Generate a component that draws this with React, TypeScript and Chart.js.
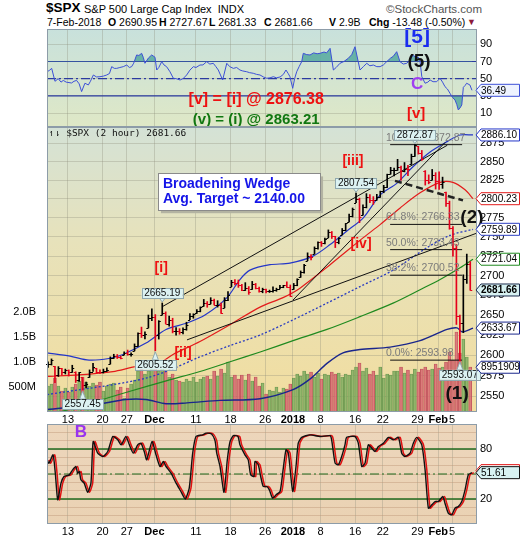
import React, { useEffect, useRef } from "react";
import { Chart, registerables } from "chart.js";

Chart.register(...registerables);

const FONT = "'Liberation Sans', Arial, Helvetica, sans-serif";
const MONO = "'DejaVu Sans Mono', 'Liberation Mono', monospace";

/* ---------------- x axis: index of 2-hour bar (4 per session) ---------------- */
const X_MIN = -0.1;
const X_MAX = 248.4;
const TICK_IDX = [12, 32, 46, 62, 86, 106, 126, 142, 158, 178, 194, 214, 226, 234];
const TICK_LABELS = ["13", "20", "27", "Dec", "11", "18", "26", "2018", "8", "16", "22", "29", "Feb", "5"];
const BOLD_TICKS = ["Dec", "2018", "Feb"];

/* ---------------- price: half-session bars (pair k sits at bar 2k+0.5) ---------------- */
const FIRST_OPEN = 2588.7;
const HIGH = [
  2592, 2595.5, 2586.5, 2586, 2583.8, 2583, 2582, 2587.7, 2579.7, 2579,
  2572.8, 2567, 2582, 2590.1, 2584, 2582, 2583, 2584.6, 2598, 2601.2,
  2600.9, 2599, 2604.2, 2606.4, 2603, 2614, 2627.7, 2634.9, 2629, 2650,
  2657.7, 2650.6, 2643, 2665.19, 2654, 2648.7, 2646, 2634.4, 2633, 2634,
  2641, 2651.7, 2651.6, 2657, 2660.3, 2669.7, 2667, 2671.9, 2670, 2668.1,
  2665, 2672, 2679.6, 2694, 2694.97, 2694.4, 2689, 2691, 2686, 2692.6,
  2690, 2685.4, 2684, 2682.7, 2681.5, 2685.6, 2684, 2687.7, 2687.6, 2692.1,
  2688, 2690, 2695.9, 2706, 2714.4, 2729.3, 2727, 2737, 2743.5, 2744,
  2748.5, 2759.1, 2757, 2750.8, 2749, 2761, 2767.6, 2780, 2787.9, 2807.54,
  2801, 2792, 2807, 2805.8, 2803, 2806, 2810.3, 2818, 2833, 2842.2,
  2841, 2852.97, 2844, 2848.6, 2845, 2860, 2872.87, 2870.6, 2865, 2837.8,
  2832, 2839.3, 2835, 2835.96, 2829, 2808.9, 2797, 2763.4, 2740, 2650,
  2701, 2727.67, 2718,
];
const LOW = [
  2585, 2588, 2566.3, 2574, 2575.6, 2577, 2574.5, 2579, 2566.6, 2568,
  2557.45, 2560, 2572.9, 2580, 2578, 2577.6, 2578.2, 2580, 2589.2, 2596,
  2596, 2595.5, 2600.4, 2600, 2598.9, 2605.4, 2611, 2622, 2620.3, 2633.9,
  2643, 2605.52, 2620, 2650, 2639, 2636, 2627.7, 2624.8, 2626, 2626.5,
  2631, 2644.1, 2646, 2652, 2654, 2661, 2659.8, 2664, 2662.9, 2660,
  2652, 2659.1, 2668, 2685.9, 2688, 2685, 2680.7, 2681, 2676.1, 2682.4,
  2683, 2679, 2678.1, 2678, 2678.5, 2679, 2680, 2683, 2684.5, 2685,
  2673.6, 2682.4, 2687, 2697.8, 2703, 2719.1, 2720, 2727.9, 2734, 2737.6,
  2741, 2749, 2747.9, 2736.1, 2741, 2752.8, 2758, 2769.6, 2776, 2795,
  2768.6, 2778.4, 2788, 2795, 2792.6, 2798.1, 2802, 2808.1, 2815, 2833,
  2830.6, 2838, 2824.8, 2836, 2830.9, 2846.2, 2857, 2860, 2851.5, 2818.3,
  2820, 2825, 2813, 2812.7, 2814, 2790, 2759.97, 2725, 2638.2, 2593.07,
  2628, 2690, 2681.33,
];
const CLOSE = [
  2589, 2594.4, 2576, 2584.6, 2579, 2582.3, 2580, 2584.8, 2570, 2578.9,
  2563, 2564.6, 2580, 2585.6, 2580, 2578.9, 2581, 2582.1, 2597, 2599,
  2598, 2597.1, 2602.4, 2601, 2601.4, 2612, 2627, 2625, 2626.1, 2646,
  2647.6, 2625, 2642.2, 2652, 2639.4, 2644, 2629.6, 2630, 2629.3, 2632,
  2637, 2649, 2651.5, 2655, 2660, 2665, 2664.1, 2669, 2662.9, 2663,
  2652, 2669, 2675.8, 2692, 2690.2, 2688, 2681.5, 2684, 2679.3, 2689,
  2684.6, 2681, 2683.3, 2680, 2680.5, 2682, 2682.6, 2686, 2687.5, 2686,
  2673.6, 2688, 2695.8, 2704, 2713.1, 2725, 2724, 2735, 2743.2, 2742,
  2747.7, 2756, 2751.3, 2743, 2748.2, 2759, 2767.6, 2778, 2786.2, 2800,
  2776.4, 2789, 2802.6, 2799, 2798, 2803, 2810.3, 2816, 2833, 2838,
  2839.1, 2842, 2837.5, 2840, 2839.3, 2858, 2872.87, 2862, 2853.5, 2825,
  2822.4, 2832, 2823.8, 2820, 2822, 2795, 2762.1, 2735, 2648.9, 2640,
  2695.1, 2715, 2681.66,
];
const VOLUME_M = [
  520, 560, 680, 520, 420, 480, 400, 500, 560, 620,
  700, 600, 520, 580, 540, 600, 420, 520, 560, 580,
  440, 500, 280, 480, 560, 640, 820, 880, 760, 820,
  900, 960, 820, 880, 820, 700, 760, 640, 620, 600,
  660, 620, 700, 600, 660, 700, 720, 660, 820, 720,
  860, 780, 1000, 700, 740, 660, 740, 640, 760, 620,
  700, 520, 580, 360, 440, 420, 500, 400, 480, 460,
  560, 680, 760, 720, 820, 760, 800, 700, 780, 660,
  760, 740, 800, 760, 780, 700, 760, 740, 840, 900,
  980, 820, 880, 760, 820, 740, 900, 680, 760, 740,
  820, 820, 900, 780, 840, 760, 860, 800, 860, 900,
  840, 860, 960, 880, 900, 1000, 1200, 1040, 1600, 1180,
  1460, 1100, 900,
];
const VOL_MA_LAST = 895190976;

const PRICE_MIN = 2531;
const PRICE_MAX = 2897;
const PRICE_TICKS = [2550, 2575, 2600, 2625, 2650, 2675, 2700, 2725, 2750, 2775, 2800, 2825, 2850, 2875];
const VOL_MAX = 5.7e9;
const VOL_TICKS = [5e8, 1e9, 1.5e9, 2e9];
const VOL_TICK_LABELS = ["500M", "1.0B", "1.5B", "2.0B"];

/* ---------------- overlays on price panel: [bar index, price] ---------------- */
const UPPER_BAND = [
  [0, 2603], [13.2, 2599], [24.2, 2594], [35.7, 2596], [43.8, 2601], [57.1, 2615], [68.7, 2632],
  [80.8, 2640], [91.2, 2650], [103.9, 2672], [111.4, 2695], [117.2, 2707], [128.8, 2714],
  [140.3, 2716], [153.6, 2725], [163.5, 2740], [173.4, 2758], [182.7, 2775], [192.4, 2805],
  [202.2, 2821], [211.4, 2843], [221.3, 2863], [231.1, 2877], [238.6, 2886], [246.1, 2886.1],
];
const MA_RED = [
  [0, 2574], [18.4, 2576], [38, 2580], [51.3, 2586], [62.9, 2588], [72.7, 2601], [88.3, 2617],
  [105.7, 2638], [123, 2660], [136.3, 2672], [146.1, 2684], [163.5, 2714], [182.7, 2749],
  [192.4, 2766], [204, 2788], [215.5, 2808], [227.1, 2822], [234.5, 2822], [241.5, 2812], [246.1, 2800.23],
];
const MA_DOTTED = [
  [0, 2552], [19, 2558], [38, 2564], [57.2, 2572], [71, 2582], [88.3, 2598], [105.7, 2612],
  [123, 2625], [142.1, 2644], [161.7, 2665], [180.8, 2686], [199.9, 2707], [219.5, 2736],
  [232.8, 2752], [246.1, 2759.89],
];
const MA_GREEN = [
  [0, 2528], [19, 2537], [30.5, 2545], [47.9, 2556], [69.3, 2569], [88.3, 2580], [105.7, 2592],
  [123.1, 2604], [142.1, 2618], [161.7, 2632], [180.8, 2648], [199.9, 2665], [215.5, 2682],
  [227.1, 2695], [238.6, 2710], [246.1, 2721.04],
];
const MA_NAVY = [
  [0, 2534], [28.2, 2540], [45.5, 2546], [57.1, 2546], [68.7, 2541], [80.8, 2542], [99.9, 2545],
  [123, 2547], [142.1, 2558], [152, 2571], [161.7, 2590], [171, 2603], [180.8, 2607], [198.2, 2610],
  [215.5, 2618], [231.1, 2632], [236.9, 2634], [239.8, 2629], [246.1, 2633.67],
];
const WEDGE_UPPER = [[66.9, 2661], [231.2, 2872]];
const WEDGE_LOWER = [[80.8, 2619], [248.4, 2755]];
const STEEP_LINE = [[142.1, 2669], [230, 2876]];
const DASHED_LINE = [[201, 2824], [240.3, 2798]];

const FIB_LEVELS = [2872.87, 2766.33, 2733.43, 2700.52, 2593.98];
const FIB_PCT = ["100.0%", "61.8%", "50.0%", "38.2%", "0.0%"];
const FIB_FROM = 198.2;
const FIB_TO = 239.8;
const FIB_TEXT_X = 195.8;

const CALLOUTS = [
  { x: 212.5, v: 2872.87, above: true },
  { x: 178.5, v: 2807.54, above: true },
  { x: 66.5, v: 2665.19, above: true },
  { x: 62.5, v: 2605.52, above: false },
  { x: 20.5, v: 2557.45, above: false },
  { x: 238.5, v: 2593.07, above: false },
];
const MAIN_NOTES = [
  { t: "[i]", x: 65.9, v: 2710, c: "#ee1111", s: 14 },
  { t: "[ii]", x: 78.5, v: 2602, c: "#ee1111", s: 14 },
  { t: "[iii]", x: 176.7, v: 2851, c: "#ee1111", s: 14 },
  { t: "[iv]", x: 181.4, v: 2740, c: "#ee1111", s: 14 },
  { t: "(2)", x: 245.5, v: 2775, c: "#111111", s: 19 },
  { t: "(1)", x: 236.9, v: 2553, c: "#111111", s: 19 },
];
const WEDGE_NOTE = { x0: 64.0, x1: 157.7, v0: 2834, v1: 2785 };
const WEDGE_TEXT = ["Broadening Wedge", "Avg. Target ~ 2140.00"];

/* ---------------- top panel: RSI-style oscillator [bar index, value] ---------------- */
const RSI_MIN = -6.2;
const RSI_MAX = 107.8;
const RSI_TICKS = [10, 30, 50, 70, 90];
const RSI_LEVELS = [70, 50, 30];
const RSI_PTS = [
  [0, 58], [1.5, 60], [2.6, 62], [4.5, 47], [6.4, 50], [8, 46], [9.3, 48], [11, 46], [14.1, 45],
  [15.5, 47], [17, 48], [18.5, 44], [19.9, 35], [21.8, 44.7], [23.8, 42.7], [25, 47], [26.7, 54.3],
  [28.5, 52], [30.5, 52.3], [32.5, 53], [34.4, 54.3], [36, 56], [37.3, 64], [38.8, 62], [40.2, 62],
  [42, 63], [44, 64], [46, 65.9], [47.5, 63], [48.8, 64], [50, 68], [51.7, 77.6], [53, 77],
  [54.6, 79.5], [55.5, 75], [56.5, 67.9], [58.5, 74], [60.4, 77.6], [62.3, 75], [63.3, 60.1],
  [64.5, 63], [66.2, 69.8], [67.5, 66], [69, 64], [71, 58], [72.9, 50.5], [74.5, 50], [76.8, 48.5],
  [78.5, 50], [80.6, 54.3], [82.5, 60], [84.5, 64], [86, 63], [88.3, 65.9], [90, 66], [92.2, 69.8],
  [94, 67], [96, 67.9], [97.5, 64], [98.9, 60.1], [101.4, 48.5], [103.8, 67.9], [105.5, 64],
  [107.6, 62], [109.5, 63], [111.4, 60.1], [113, 59], [115.3, 58.1], [117, 57], [119.1, 56.3],
  [121, 55], [123, 54.3], [125, 52], [126.9, 50.5], [128.8, 51], [130.7, 52.3], [132.5, 51],
  [134.6, 52], [136.5, 55], [138, 60.1], [139.3, 56], [140.3, 52.3], [141.9, 38.8], [143, 50],
  [144.2, 58.1], [145.6, 64], [147.1, 69.8], [148, 79.5], [150, 78], [151.9, 77.6], [154, 80],
  [156, 79], [157.7, 79.5], [160, 81], [161.5, 80], [163.5, 85.3], [165.4, 60.1], [167, 63],
  [169.2, 67.9], [171.5, 70], [174, 73.7], [176, 78], [177.9, 87.2], [180.8, 60.1], [182.7, 64],
  [184.7, 67.9], [186.5, 65], [188.5, 65.9], [190.5, 64], [192.4, 64], [194.3, 66], [196.2, 69.8],
  [198.5, 74], [200, 76], [202, 81.4], [203.9, 69.8], [205.8, 67], [207.8, 67.9], [209.7, 72],
  [211.6, 77.6], [213, 74], [214.5, 75], [215.5, 70], [216.5, 52.3], [218.4, 44.7], [220, 46],
  [221.3, 48.5], [223, 46.5], [225.1, 46.5], [227, 50.5], [228.5, 46], [229.9, 40.7], [231.3, 38],
  [232.8, 33], [234.3, 28], [235.7, 25.2], [236.7, 20], [237.6, 13.6], [238.6, 16], [239.6, 19.4],
  [240.5, 40], [241.5, 42], [242.4, 44.7], [244.3, 42.7], [245.5, 36.49],
];
const TOP_NOTES = [
  { t: "[5]", x: 213.8, v: 98.5, c: "#1a2cf0", s: 21 },
  { t: "(5)", x: 214.9, v: 69.4, c: "#111111", s: 19 },
  { t: "C", x: 213.8, v: 43.8, c: "#a040f0", s: 17 },
  { t: "[v] = [i] @ 2876.38", x: 120.8, v: 25.2, c: "#ee1111", s: 16 },
  { t: "(v) = (i) @ 2863.21", x: 120.8, v: 2, c: "#117711", s: 15 },
  { t: "[v]", x: 213.2, v: 8.8, c: "#ee1111", s: 15 },
];

/* ---------------- bottom panel: stochastic-style oscillator ---------------- */
const OSC_MIN = -10;
const OSC_MAX = 110;
const OSC_GRID = [0, 10, 20, 30, 40, 50, 60, 70, 80, 90, 100];
const OSC_LABELED = [80, 20];
const OSC_LEVELS = [80, 50, 20];
const SIGNAL_LAG = 1;
const OSC_PTS = [
  [0, 67], [1, 63], [3.4, 73], [4.7, 51], [6.1, 19], [8, 39], [9.7, 47], [12.8, 49], [14.7, 55],
  [16.6, 59], [17.6, 51], [18.6, 53], [19.5, 43], [21.4, 39], [23.4, 28], [25.3, 39], [26.6, 89],
  [29.2, 75], [32.1, 71], [35, 77], [37.9, 95], [40.8, 91], [42.7, 85], [45.5, 95], [47.5, 85],
  [49.8, 75], [52.3, 85], [54.2, 87], [56.1, 77], [57.5, 67], [60.6, 89], [62.9, 73], [65.2, 59],
  [67.1, 65], [68.7, 59], [71.6, 51], [74.5, 39], [77.3, 29], [79.8, 20], [82.1, 33], [84.1, 75],
  [86, 95], [89.9, 97], [91.8, 99], [95, 98], [97, 90], [98, 75], [99.9, 59], [102.2, 28],
  [104.1, 67], [105.7, 89], [107.6, 96], [110.3, 95], [111.4, 85], [114.3, 73], [116.2, 67],
  [117.6, 49], [119.5, 47], [120.1, 65], [122, 61], [123.4, 47], [124.9, 35], [126.9, 35],
  [128.4, 31], [130.3, 21], [132.3, 25], [134.6, 29], [136.1, 51], [138, 79], [139.4, 75],
  [141.9, 29], [143.8, 59], [145.1, 87], [147.1, 94], [151.9, 97], [157.7, 95], [163.5, 96],
  [164.4, 91], [166.4, 63], [168.3, 61], [170.2, 71], [172.1, 85], [173.1, 94], [177.9, 95],
  [179.8, 87], [181.8, 59], [183.7, 63], [185.6, 85], [187.6, 81], [189.5, 77], [191.4, 83],
  [194.3, 87], [197.2, 94], [200.1, 91], [203, 94], [204.9, 75], [206.8, 71], [209.7, 75],
  [211.6, 87], [213.6, 94], [216.5, 85], [218.4, 55], [220.3, 9], [222.3, 13], [224.2, 17],
  [226.1, 17], [228.6, 23], [229.9, 15], [231.8, 3], [233.8, 1], [235.7, 9], [237.6, 11],
  [239.6, 17], [241.5, 31], [243.4, 49], [245.5, 51.61],
];
const BOTTOM_NOTES = [{ t: "B", x: 19.5, v: 100.4, c: "#9933ee", s: 17 }];

/* ---------------- styles ---------------- */
const GRID = "rgba(140,140,120,0.32)";
const PANEL_BORDER = "#8d9ca8";
const UP_COLOR = "#000000";
const DOWN_COLOR = "#e4001b";
const TEAL = "rgba(92,172,162,0.9)";
const NAVY = "#2b3aa0";
const TOP_BG: [number, string][] = [[0, "#c8e1dc"], [1, "#dfe8c6"]];
const MAIN_BG: [number, string][] = [[0, "#d4e2d6"], [0.4, "#e7e2bb"], [1, "#f2dd9e"]];
const BOT_BG: [number, string][] = [[0, "#edd6bc"], [1, "#ead2b3"]];

/* ---------------- helpers ---------------- */
const pts = (arr: number[][]) => arr.map(([x, y]) => ({ x, y }));
const flat = (v: number) => [{ x: X_MIN, y: v }, { x: X_MAX, y: v }];
const last = (arr: number[][]) => arr[arr.length - 1][1];
const PAIR_X = CLOSE.map((_, k) => 2 * k + 0.5);
const PREV = CLOSE.map((_, k) => (k === 0 ? FIRST_OPEN : CLOSE[k - 1]));
const UP = CLOSE.map((c, k) => c >= PREV[k]);

function xAxis(showLabels: boolean, height: number): any {
  return {
    type: "linear",
    min: X_MIN,
    max: X_MAX,
    offset: false,
    afterBuildTicks: (s: any) => {
      s.ticks = TICK_IDX.map((v) => ({ value: v }));
    },
    afterFit: (s: any) => {
      s.height = height;
    },
    grid: { color: GRID, drawTicks: false, offset: false },
    border: { display: false },
    ticks: {
      display: showLabels,
      autoSkip: false,
      maxRotation: 0,
      padding: 1,
      color: "#000",
      callback: (v: number) => {
        const i = TICK_IDX.indexOf(v);
        return i >= 0 ? TICK_LABELS[i] : "";
      },
      font: (c: any) => {
        const i = c && c.tick ? TICK_IDX.indexOf(c.tick.value) : -1;
        const bold = i >= 0 && BOLD_TICKS.includes(TICK_LABELS[i]);
        return { family: FONT, size: 11, weight: bold ? "bold" : "normal" };
      },
    },
  };
}

function rightAxis(min: number, max: number, ticks: number[], labelFn: (v: number) => string, type = "linear", gridColor = GRID): any {
  return {
    type,
    position: "right",
    min,
    max,
    afterBuildTicks: (s: any) => {
      s.ticks = ticks.map((v) => ({ value: v }));
    },
    afterFit: (s: any) => {
      s.width = 43;
    },
    grid: { color: gridColor, drawTicks: false },
    border: { display: false },
    ticks: {
      autoSkip: false,
      padding: 3,
      color: "#000",
      font: { family: FONT, size: 11 },
      callback: (v: number) => labelFn(v),
    },
  };
}

function paintPanel(chart: any, stops: [number, string][]) {
  const { ctx, chartArea: a } = chart;
  const g = ctx.createLinearGradient(0, a.top, 0, a.bottom);
  stops.forEach(([o, c]) => g.addColorStop(o, c));
  ctx.save();
  ctx.fillStyle = g;
  ctx.fillRect(a.left, a.top, a.right - a.left, a.bottom - a.top);
  ctx.restore();
}

function strokePanel(chart: any) {
  const { ctx, chartArea: a } = chart;
  ctx.save();
  ctx.strokeStyle = PANEL_BORDER;
  ctx.lineWidth = 1;
  ctx.strokeRect(Math.round(a.left) + 0.5, Math.round(a.top) + 0.5, Math.round(a.right - a.left) - 1, Math.round(a.bottom - a.top) - 1);
  ctx.restore();
}

function drawText(ctx: any, s: string, x: number, y: number, color: string, font: string, align: string = "center") {
  ctx.save();
  ctx.font = font;
  ctx.fillStyle = color;
  ctx.textAlign = align;
  ctx.textBaseline = "middle";
  ctx.fillText(s, x, y);
  ctx.restore();
}

function drawTag(ctx: any, x0: number, y: number, text: string, border: string, fill: string, bold = false) {
  const h = 12;
  const right = 519.5;
  ctx.save();
  ctx.beginPath();
  ctx.moveTo(x0, y);
  ctx.lineTo(x0 + 5, y - h / 2);
  ctx.lineTo(right, y - h / 2);
  ctx.lineTo(right, y + h / 2);
  ctx.lineTo(x0 + 5, y + h / 2);
  ctx.closePath();
  ctx.fillStyle = fill;
  ctx.fill();
  ctx.strokeStyle = border;
  ctx.lineWidth = 1;
  ctx.stroke();
  ctx.font = `${bold ? "bold " : ""}10px ${FONT}`;
  ctx.fillStyle = "#000";
  ctx.textAlign = "left";
  ctx.textBaseline = "middle";
  ctx.fillText(text, x0 + 5, y + 0.5);
  ctx.restore();
}

function drawCallout(ctx: any, px: number, py: number, text: string, above: boolean) {
  ctx.save();
  ctx.font = `10px ${FONT}`;
  const w = ctx.measureText(text).width + 5;
  const h = 10;
  const top = above ? py - 5 - h : py + 9;
  const left = px - w / 2;
  ctx.fillStyle = "#dcf2f2";
  ctx.strokeStyle = "#90a8ae";
  ctx.lineWidth = 1;
  ctx.beginPath();
  if (above) {
    ctx.moveTo(px - 3, top + h);
    ctx.lineTo(px, py - 1);
    ctx.lineTo(px + 3, top + h);
  } else {
    ctx.moveTo(px - 3, top);
    ctx.lineTo(px, py + 1);
    ctx.lineTo(px + 3, top);
  }
  ctx.closePath();
  ctx.fill();
  ctx.stroke();
  ctx.fillRect(left, top, w, h);
  ctx.strokeRect(Math.round(left) + 0.5, Math.round(top) + 0.5, Math.round(w), h);
  ctx.fillStyle = "#111";
  ctx.textAlign = "center";
  ctx.textBaseline = "middle";
  ctx.fillText(text, px, top + h / 2 + 0.5);
  ctx.restore();
}

const baseOptions = (padding: any) => ({
  responsive: false,
  maintainAspectRatio: false,
  animation: false,
  events: [],
  layout: { padding },
  plugins: { legend: { display: false }, tooltip: { enabled: false } },
});

/* ---------------- top chart ---------------- */
function topConfig(): any {
  return {
    type: "line",
    data: {
      datasets: [
        {
          data: pts(RSI_PTS), borderColor: "#3d50d8", borderWidth: 1, pointRadius: 0,
          fill: { target: { value: RSI_LEVELS[0] }, above: TEAL, below: "rgba(0,0,0,0)" }, order: 0,
        },
        {
          data: pts(RSI_PTS), borderColor: "rgba(0,0,0,0)", borderWidth: 0, pointRadius: 0,
          fill: { target: { value: RSI_LEVELS[2] }, above: "rgba(0,0,0,0)", below: TEAL }, order: 4,
        },
        { data: flat(RSI_LEVELS[0]), borderColor: NAVY, borderWidth: 1.2, pointRadius: 0, order: 2 },
        { data: flat(RSI_LEVELS[1]), borderColor: NAVY, borderWidth: 1.2, borderDash: [9, 3, 2, 3], pointRadius: 0, order: 2 },
        { data: flat(RSI_LEVELS[2]), borderColor: NAVY, borderWidth: 1.2, pointRadius: 0, order: 2 },
      ],
    },
    options: {
      ...baseOptions({ top: 29, bottom: 413, left: 47, right: 0 }),
      scales: {
        x: xAxis(false, 0),
        y: rightAxis(RSI_MIN, RSI_MAX, RSI_TICKS, (v) => String(v)),
      },
    },
    plugins: [
      {
        id: "topDeco",
        beforeDraw: (c: any) => paintPanel(c, TOP_BG),
        afterDatasetsDraw: (c: any) => {
          const xs = c.scales.x, ys = c.scales.y;
          TOP_NOTES.forEach((n) =>
            drawText(c.ctx, n.t, xs.getPixelForValue(n.x), ys.getPixelForValue(n.v), n.c, `bold ${n.s}px ${FONT}`)
          );
        },
        afterDraw: (c: any) => {
          strokePanel(c);
          const v = last(RSI_PTS);
          drawTag(c.ctx, c.chartArea.right - 1, c.scales.y.getPixelForValue(v), v.toFixed(2), "#3d50d8", "#eef3ff");
        },
      },
    ],
  };
}

/* ---------------- main chart ---------------- */
function lineDs(data: number[][], color: string, width: number, order: number, extra: any = {}) {
  return { type: "line", data: pts(data), borderColor: color, borderWidth: width, pointRadius: 0, tension: 0.3, yAxisID: "y", order, ...extra };
}

function mainConfig(): any {
  const fibSets = FIB_LEVELS.map((lv) => ({
    type: "line", data: [{ x: FIB_FROM, y: lv }, { x: FIB_TO, y: lv }], borderColor: "#111", borderWidth: 1,
    pointRadius: 0, yAxisID: "y", order: 4,
  }));
  return {
    type: "bar",
    data: {
      datasets: [
        {
          type: "bar", yAxisID: "yVol", grouped: false, order: 10, barThickness: 3,
          data: VOLUME_M.map((v, k) => ({ x: PAIR_X[k], y: v * 1e6 })),
          backgroundColor: UP.map((u) => (u ? "rgba(128,172,96,0.8)" : "rgba(214,104,112,0.8)")),
          borderColor: UP.map((u) => (u ? "rgba(95,140,70,0.9)" : "rgba(180,70,80,0.9)")),
          borderWidth: 0.5,
        },
        lineDs(MA_NAVY, "#1a268c", 1.4, 7),
        lineDs(MA_GREEN, "#1f8a1f", 1.2, 7),
        lineDs(MA_DOTTED, "#2a3cc0", 1.3, 7, { borderDash: [2, 2] }),
        lineDs(MA_RED, "#e31b1b", 1.2, 7),
        lineDs(UPPER_BAND, "#2436c8", 1.2, 7),
        lineDs(WEDGE_UPPER, "#111", 1, 5, { tension: 0 }),
        lineDs(WEDGE_LOWER, "#111", 1, 5, { tension: 0 }),
        lineDs(STEEP_LINE, "#111", 1, 5, { tension: 0 }),
        lineDs(DASHED_LINE, "#222", 2.5, 5, { tension: 0, borderDash: [7, 4] }),
        ...fibSets,
        {
          type: "bar", yAxisID: "y", grouped: false, order: 1, barThickness: 1,
          data: CLOSE.map((_, k) => ({ x: PAIR_X[k], y: [LOW[k], HIGH[k]] })),
          backgroundColor: UP.map((u) => (u ? UP_COLOR : DOWN_COLOR)),
          borderWidth: 0,
        },
      ],
    },
    options: {
      ...baseOptions({ top: 127, bottom: 116, left: 0, right: 0 }),
      scales: {
        x: xAxis(true, 12),
        y: rightAxis(PRICE_MIN, PRICE_MAX, PRICE_TICKS, (v) => String(v), "logarithmic"),
        yVol: {
          type: "linear",
          position: "left",
          min: 0,
          max: VOL_MAX,
          afterBuildTicks: (s: any) => {
            s.ticks = VOL_TICKS.map((v) => ({ value: v }));
          },
          afterFit: (s: any) => {
            s.width = 47;
          },
          grid: { display: false },
          border: { display: false },
          ticks: {
            autoSkip: false,
            padding: 3,
            color: "#000",
            font: { family: FONT, size: 11 },
            callback: (v: number) => {
              const i = VOL_TICKS.indexOf(v);
              return i >= 0 ? VOL_TICK_LABELS[i] : "";
            },
          },
        },
      },
    },
    plugins: [
      {
        id: "mainDeco",
        beforeDraw: (c: any) => paintPanel(c, MAIN_BG),
        afterDatasetsDraw: (c: any) => {
          const ctx = c.ctx, xs = c.scales.x, ys = c.scales.y, a = c.chartArea;
          // open / close ticks of each bar
          ctx.save();
          ctx.lineWidth = 1;
          CLOSE.forEach((cl, k) => {
            const px = xs.getPixelForValue(PAIR_X[k]);
            const o = Math.min(HIGH[k], Math.max(LOW[k], PREV[k]));
            const yo = Math.round(ys.getPixelForValue(o)) + 0.5;
            const yc = Math.round(ys.getPixelForValue(cl)) + 0.5;
            ctx.strokeStyle = UP[k] ? UP_COLOR : DOWN_COLOR;
            ctx.beginPath();
            ctx.moveTo(px - 2, yo);
            ctx.lineTo(px, yo);
            ctx.moveTo(px, yc);
            ctx.lineTo(px + 2, yc);
            ctx.stroke();
          });
          ctx.restore();
          // series title
          drawText(ctx, "\u21BF\u21C2 $SPX (2 hour) " + CLOSE[CLOSE.length - 1].toFixed(2), a.left + 2, a.top + 7, "#111", `9.5px ${MONO}`, "left");
          // fibonacci labels
          FIB_LEVELS.forEach((lv, i) =>
            drawText(ctx, `${FIB_PCT[i]}: ${lv.toFixed(2)}`, xs.getPixelForValue(FIB_TEXT_X), ys.getPixelForValue(lv) - 7, "#7b7b7b", `10.5px ${FONT}`, "left")
          );
          // wedge note
          const bx0 = xs.getPixelForValue(WEDGE_NOTE.x0), bx1 = xs.getPixelForValue(WEDGE_NOTE.x1);
          const by0 = ys.getPixelForValue(WEDGE_NOTE.v0), by1 = ys.getPixelForValue(WEDGE_NOTE.v1);
          ctx.save();
          ctx.fillStyle = "#b3b3a2";
          ctx.fillRect(bx0 + 3, by0 + 3, bx1 - bx0, by1 - by0);
          ctx.fillStyle = "#ffffff";
          ctx.fillRect(bx0, by0, bx1 - bx0, by1 - by0);
          ctx.strokeStyle = "#8a8a8a";
          ctx.lineWidth = 1;
          ctx.strokeRect(Math.round(bx0) + 0.5, Math.round(by0) + 0.5, Math.round(bx1 - bx0), Math.round(by1 - by0));
          ctx.restore();
          WEDGE_TEXT.forEach((t, i) => drawText(ctx, t, bx0 + 5, by0 + 11 + i * 15, "#1515e8", `bold 14px ${FONT}`, "left"));
          // wave labels
          MAIN_NOTES.forEach((n) =>
            drawText(ctx, n.t, xs.getPixelForValue(n.x), ys.getPixelForValue(n.v), n.c, `bold ${n.s}px ${FONT}`)
          );
          // price callouts
          CALLOUTS.forEach((co) => drawCallout(ctx, xs.getPixelForValue(co.x), ys.getPixelForValue(co.v), co.v.toFixed(2), co.above));
        },
        afterDraw: (c: any) => {
          strokePanel(c);
          const ctx = c.ctx, ys = c.scales.y, x0 = c.chartArea.right - 1;
          const tags: [number, string, string, boolean][] = [
            [last(UPPER_BAND), "#2436c8", "#ffffff", false],
            [last(MA_RED), "#e31b1b", "#ffffff", false],
            [last(MA_DOTTED), "#2a3cc0", "#ffffff", false],
            [last(MA_GREEN), "#1f8a1f", "#ffffff", false],
            [CLOSE[CLOSE.length - 1], "#1a2a4a", "#d8f2f2", true],
            [last(MA_NAVY), "#1a268c", "#ffffff", false],
          ];
          tags.forEach(([v, b, f, bold]) => drawTag(ctx, x0, ys.getPixelForValue(v), v.toFixed(2), b, f, bold));
          drawTag(ctx, x0, c.scales.yVol.getPixelForValue(VOL_MA_LAST), String(VOL_MA_LAST), "#1a268c", "#ffffff");
        },
      },
    ],
  };
}

/* ---------------- bottom chart ---------------- */
function bottomConfig(): any {
  return {
    type: "line",
    data: {
      datasets: [
        { data: flat(OSC_LEVELS[0]), borderColor: "#1f6a1f", borderWidth: 1.3, pointRadius: 0, order: 3 },
        { data: flat(OSC_LEVELS[1]), borderColor: "#1f6a1f", borderWidth: 1.2, borderDash: [9, 3, 2, 3], pointRadius: 0, order: 3 },
        { data: flat(OSC_LEVELS[2]), borderColor: "#1f6a1f", borderWidth: 1.3, pointRadius: 0, order: 3 },
        {
          data: OSC_PTS.map(([x, y]) => ({ x: x + SIGNAL_LAG, y })), borderColor: "#e01010", borderWidth: 1.5,
          pointRadius: 0, tension: 0.2, order: 2,
        },
        { data: pts(OSC_PTS), borderColor: "#111111", borderWidth: 1.4, pointRadius: 0, tension: 0.2, order: 1 },
      ],
    },
    options: {
      ...baseOptions({ top: 424, bottom: 4, left: 47, right: 0 }),
      scales: {
        x: xAxis(true, 12),
        y: rightAxis(OSC_MIN, OSC_MAX, OSC_GRID, (v) => (OSC_LABELED.includes(v) ? String(v) : ""), "linear", "rgba(190,150,120,0.45)"),
      },
    },
    plugins: [
      {
        id: "botDeco",
        beforeDraw: (c: any) => paintPanel(c, BOT_BG),
        afterDatasetsDraw: (c: any) => {
          const xs = c.scales.x, ys = c.scales.y;
          BOTTOM_NOTES.forEach((n) =>
            drawText(c.ctx, n.t, xs.getPixelForValue(n.x), ys.getPixelForValue(n.v), n.c, `bold ${n.s}px ${FONT}`)
          );
        },
        afterDraw: (c: any) => {
          strokePanel(c);
          const v = last(OSC_PTS);
          const y = c.scales.y.getPixelForValue(v);
          drawTag(c.ctx, c.chartArea.right - 1, y - 2, "", "#e01010", "#ffffff");
          drawTag(c.ctx, c.chartArea.right - 1, y, v.toFixed(2), "#111111", "#d8f2f2");
        },
      },
    ],
  };
}

/* ---------------- header ---------------- */
const HEADER_ITEMS = [
  { x: 47, b: "", t: "7-Feb-2018" },
  { x: 108, b: "O", t: " 2690.95" },
  { x: 159, b: "H", t: " 2727.67" },
  { x: 209, b: "L", t: " 2681.33" },
  { x: 264, b: "C", t: " 2681.66" },
  { x: 329, b: "V", t: " 2.9B" },
  { x: 369, b: "Chg", t: " -13.48 (-0.50%)" },
];

export default function App() {
  const topRef = useRef<HTMLCanvasElement>(null);
  const mainRef = useRef<HTMLCanvasElement>(null);
  const botRef = useRef<HTMLCanvasElement>(null);

  useEffect(() => {
    const charts = [
      new Chart(topRef.current as HTMLCanvasElement, topConfig()),
      new Chart(mainRef.current as HTMLCanvasElement, mainConfig()),
      new Chart(botRef.current as HTMLCanvasElement, bottomConfig()),
    ];
    return () => charts.forEach((c) => c.destroy());
  }, []);

  const cs: any = { position: "absolute", left: 0, top: 0, width: 520, height: 540 };
  const abs = (x: number, y: number, font: string, color = "#000"): any => ({
    position: "absolute", left: x, top: y, font, color, whiteSpace: "pre", lineHeight: "16px",
  });

  return (
    <div style={{ position: "absolute", left: 0, top: 0, width: 520, height: 540, background: "#fff", overflow: "hidden" }}>
      <div style={abs(46, 0, `bold 13.5px ${FONT}`)}>$SPX</div>
      <div style={abs(84, 1, `11px ${FONT}`)}>{"S&P 500 Large Cap Index  INDX"}</div>
      <div style={abs(386, 1, `11.5px ${FONT}`, "#555")}>{"\u00A9StockCharts.com"}</div>
      {HEADER_ITEMS.map((h) => (
        <div key={h.x} style={abs(h.x, 14, `10.5px ${FONT}`)}>
          {h.b ? <b>{h.b}</b> : null}
          {h.t}
        </div>
      ))}
      <div style={abs(467, 14, `9px ${FONT}`, "#8b1a3a")}>{"\u25BC"}</div>
      <canvas ref={topRef} width={520} height={540} style={cs} />
      <canvas ref={mainRef} width={520} height={540} style={cs} />
      <canvas ref={botRef} width={520} height={540} style={cs} />
    </div>
  );
}
